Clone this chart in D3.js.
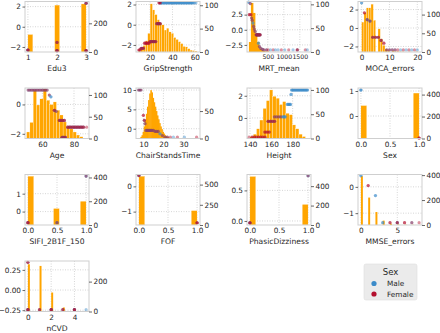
<!DOCTYPE html>
<html>
<head>
<meta charset="utf-8">
<script src="https://cdn.jsdelivr.net/npm/d3@7"></script>
<style>
  body { margin: 0; background: #fff; }
  text { font-family: "DejaVu Sans", sans-serif; fill: #262626; }
</style>
</head>
<body>
<svg id="chart" width="440" height="333"></svg>
<script>
// feature names, one panel each
const features = ["Edu3", "GripStrength", "MRT_mean", "MOCA_errors",
  "Age", "ChairStandsTime", "Height", "Sex",
  "SIFI_2B1F_150", "FOF", "PhasicDizziness", "MMSE_errors", "nCVD"];

const xDomains = [[0.9, 3.1], [7.4, 64.6], [-150, 1850], [-1.3, 21.7],
  [49, 89.5], [6.3, 38.3], [137.2, 197.2], [-0.05, 1.05],
  [-0.05, 1.05], [-0.05, 1.05], [-0.05, 1.05], [-0.4, 8.4], [-0.25, 5.25]];
const valueDomains = [[-2.5, 2.5], [-2.7, 2.3], [-3.67, 4.67], [-2.6, 2.87],
  [-2.32, 1.12], [-2.53, 10.52], [-1.85, 2.7], [-0.9, 1.12],
  [-0.75, 2.07], [-1.53, 0.47], [-0.066, 0.76], [-1.45, 0.47], [-0.266, 0.36]];
const countDomains = [[0, 352], [0, 108], [0, 106], [0, 135],
  [0, 116], [0, 92], [0, 104], [0, 460],
  [0, 425], [0, 625], [0, 520], [0, 405], [0, 338]];

// tick labels
const xTicks = [[1, 2, 3], [20, 40, 60], [500, 1000, 1500], [0, 10, 20],
  [60, 80], [10, 20, 30], [140, 160, 180], [0, 0.5, 1],
  [0, 0.5, 1], [0, 0.5, 1], [0, 0.5, 1], [0, 5], [0, 2, 4]];
const valueTicks = [[-2, 0, 2], [-2, 0, 2], [-2.5, 0, 2.5], [-2, 0, 2],
  [-2, 0], [0, 5, 10], [0, 2], [0, 1],
  [0, 1], [-1, 0], [0, 0.5], [-1, 0], [-0.25, 0, 0.25]];
const countTicks = [[0, 200], [0, 50, 100], [0, 50, 100], [0, 50, 100],
  [0, 50, 100], [0, 50], [0, 50, 100], [0, 200, 400],
  [0, 200, 400], [0, 250, 500], [0, 200, 400], [0, 200, 400], [0, 200]];
const xFormats = ["d", "d", "d", "d", "d", "d", "d", ".1f", ".1f", ".1f", ".1f", "d", "d"];
const valueFormats = ["d", "d", ".1f", "d", "d", "d", "d", "d", "d", "d", ".1f", "d", ".2f"];

// histograms: regular bins {start, step, counts} or explicit bars [x0, x1, count]
const edu3Hist = {bars: [[1.0, 1.17, 122], [1.92, 2.09, 327], [2.83, 3.0, 335]]};
const gripHist = {start: 9.5, step: 2.1, counts: [3, 7, 14, 24, 40, 103, 90, 80, 69, 62, 58, 47, 51, 43, 40, 31, 27, 22, 18, 12, 11, 7, 4, 3, 2]};
const mrtHist = {start: -90, step: 62, counts: [21, 103, 82, 39, 21, 7, 4, 2, 1, 1]};
const mocaHist = {start: 0, step: 0.84, counts: [80, 105, 118, 118, 128, 85, 0, 62, 35, 18, 8, 5, 0, 4, 2, 2, 1, 1, 0, 0, 1, 0, 0, 1, 0]};
const ageHist = {start: 50, step: 2.1, counts: [15, 37, 111, 77, 91, 114, 88, 78, 84, 65, 54, 38, 27, 22, 15, 8, 4]};
const chairHist = {start: 8.5, step: 0.55, counts: [3, 6, 12, 22, 33, 45, 58, 70, 82, 88, 84, 74, 66, 58, 50, 42, 35, 28, 22, 17, 12, 9, 6, 4, 3, 2]};
const heightHist = {start: 140, step: 3.06, counts: [4, 9, 20, 38, 62, 78, 100, 87, 83, 70, 76, 52, 49, 28, 20, 9, 4]};
const sexHist = {bars: [[0, 0.1, 300], [0.9, 1.0, 414]]};
const sifiHist = {bars: [[0, 0.1, 411], [0.44, 0.54, 139], [0.9, 1.0, 200]]};
const fofHist = {bars: [[0, 0.1, 604], [0.9, 1.0, 178]]};
const phasicHist = {bars: [[0, 0.1, 500], [0.9, 1.0, 212]]};
const mmseHist = {bars: [[0, 0.27, 392], [1, 1.27, 220], [2, 2.27, 104], [3, 3.27, 35], [4, 4.27, 10], [5, 5.27, 5], [6, 6.27, 3], [7, 7.27, 2], [8, 8.27, 1]]};
const ncvdHist = {bars: [[0, 0.17, 316], [1, 1.17, 305], [2, 2.17, 127], [3, 3.17, 27], [4, 4.17, 4], [5, 5.17, 1]]};

// scatter groups: [value, n male, n female, x values]
const edu3Pts = [[-2.3, 3, 3, [1]], [-1.55, 1, 2, [2]], [-2.37, 3, 3, [2, 3]], [2.33, 2, 2, [3]]];
const gripPts = [
  [2.17, 2, 0, [29, 30, 31, 32, 33, 34, 35, 36, 37, 38, 39, 40, 41, 42, 43, 44, 45, 46, 47, 48, 49, 50, 51, 52, 53, 54, 55, 56, 57, 58]],
  [2.17, 1, 0, [59, 60, 61]], [2.17, 0, 2, [28, 29]],
  [0.1, 1, 2, [26, 27, 28, 29]], [-1.67, 1, 2, [20, 21, 22, 23, 24, 25]],
  [-1.83, 0, 2, [15, 16, 17, 18, 19]], [-2.33, 1, 2, [12, 13, 14]], [-2.5, 0, 2, [10, 11]]];
const mrtPts = [
  [4.56, 2, 0, [-100]], [4.33, 1, 1, [-48]], [2.5, 0, 2, [-80, -28]], [1.94, 1, 1, [-7]],
  [1.56, 1, 1, [14]], [1.11, 2, 0, [35]], [0.56, 1, 1, [55]], [0.11, 1, 1, [76]],
  [-0.28, 1, 1, [107]], [-0.83, 1, 2, [138, 158, 179, 199, 220, 240, 261]],
  [-2.22, 2, 0, [210]], [-2.78, 1, 1, [240]], [-3.06, 1, 1, [282]], [-3.22, 1, 1, [334]],
  [-3.33, 1, 1, [375, 458]], [-3.33, 0, 1, [510, 666, 924, 1154, 1672]],
  [-3.33, 1, 0, [582, 738, 821, 1030, 1288, 1734]], [-3.33, 1, 2, [1422]]];
const mocaPts = [
  [2.73, 2, 0, [0]], [1.64, 0, 2, [1]], [0.9, 2, 1, [2]], [0.75, 2, 1, [3]],
  [-1.0, 1, 2, [4, 5, 6]], [-1.35, 1, 2, [7]], [-1.64, 0, 2, [8]],
  [-2.37, 1, 1, [9, 10, 11, 12]], [-2.37, 0, 1, [13, 15, 17, 19]], [-2.37, 1, 0, [14, 16, 18, 20]]];
const agePts = [
  [0.98, 1, 1, [51, 52, 53, 54, 55, 56, 57, 58, 59, 60, 61, 62, 63]],
  [0.64, 1, 1, [64.4]], [0.52, 2, 0, [65.4]], [-0.4, 1, 2, [67.6]], [-0.47, 1, 1, [68.7]],
  [-1.09, 1, 2, [70.8, 71.8, 72.8, 73.9]], [-2.24, 2, 2, [72.5, 73.5, 74.5]],
  [-1.55, 1, 2, [76, 77, 78, 79, 80, 81, 82, 83, 84, 85, 86]], [-1.55, 0, 1, [88]]];
const chairPts = [
  [10.0, 1, 1, [7.6, 8.2, 8.8]], [3.47, 0, 2, [10]], [2.17, 1, 2, [10.5]], [1.3, 1, 1, [10.8]],
  [-0.44, 1, 1, [11.3, 11.8, 12.3, 12.8, 13.3, 13.8, 14.3, 15]], [-0.7, 1, 1, [15.8, 16.6, 17.4]],
  [-1.3, 2, 0, [18.3]], [-1.75, 1, 1, [19.5]], [-2.2, 1, 1, [20.8, 22]],
  [-2.2, 0, 1, [23.5, 27, 36.6]], [-2.2, 1, 0, [25, 30.5]]];
const heightPts = [
  [2.52, 2, 0, [179, 180, 181, 182, 183, 184, 185, 186, 187, 188, 189, 190, 191, 192, 193, 194]],
  [2.12, 2, 0, [178.5]], [1.22, 2, 0, [175, 176, 177, 178]],
  [0.1, 1, 1, [163, 165, 167, 169]], [0.1, 2, 0, [171, 172, 173]],
  [-0.3, 1, 2, [157, 159, 161, 163]], [-1.27, 0, 2, [154, 156, 158]],
  [-1.73, 0, 2, [142, 144, 146, 148, 150, 152, 154]], [-1.73, 0, 1, [139]]];
const sexPts = [[1.04, 3, 0, [0]], [-0.88, 0, 3, [1]]];
const sifiPts = [[-0.62, 2, 3, [0]], [-0.62, 2, 1, [0.5]], [1.98, 2, 1, [1]]];
const fofPts = [[0.43, 2, 2, [0]], [-1.44, 1, 3, [1]]];
const phasicPts = [[-0.03, 3, 3, [0]], [0.74, 2, 1, [1]]];
const mmsePts = [
  [0.43, 2, 0, [0]], [0.05, 0, 2, [1]], [-0.33, 2, 0, [2]], [-1.36, 2, 0, [3]],
  [-1.36, 0, 2, [4, 6]], [-1.36, 2, 2, [5]], [-1.36, 1, 1, [7]], [-1.36, 0, 1, [8]]];
const ncvdPts = [
  [0.344, 1, 2, [0]], [-0.243, 3, 3, [0, 2, 4]], [-0.243, 1, 2, [1, 3]], [-0.243, 1, 0, [5]]];

const histograms = [edu3Hist, gripHist, mrtHist, mocaHist, ageHist, chairHist, heightHist,
  sexHist, sifiHist, fofHist, phasicHist, mmseHist, ncvdHist];
const scatters = [edu3Pts, gripPts, mrtPts, mocaPts, agePts, chairPts, heightPts,
  sexPts, sifiPts, fofPts, phasicPts, mmsePts, ncvdPts];

const sexLabels = ["Male", "Female"];
const sexColors = ["#3b8bc9", "#b30f2e"];

// layout
const colX = [25, 136, 247, 358];
const rowY = [1.5, 88, 174.5, 261];
const W = 64, H = 50.5;

const svg = d3.select("#chart");

features.forEach((name, i) => {
  const g = svg.append("g")
    .attr("transform", `translate(${colX[i % 4]},${rowY[Math.floor(i / 4)]})`);

  const x = d3.scaleLinear().domain(xDomains[i]).range([0, W]);
  const yv = d3.scaleLinear().domain(valueDomains[i]).range([H, 0]);
  const yc = d3.scaleLinear().domain(countDomains[i]).range([H, 0]);

  // dotted grid
  g.selectAll(".gx").data(xTicks[i]).join("line")
    .attr("x1", d => x(d)).attr("x2", d => x(d))
    .attr("y1", 0).attr("y2", H)
    .attr("stroke", "#c4c4c4").attr("stroke-width", 0.7).attr("stroke-dasharray", "1,1.5");
  g.selectAll(".gy").data(valueTicks[i]).join("line")
    .attr("x1", 0).attr("x2", W)
    .attr("y1", d => yv(d)).attr("y2", d => yv(d))
    .attr("stroke", "#c4c4c4").attr("stroke-width", 0.7).attr("stroke-dasharray", "1,1.5");

  // histogram on the count axis; narrow contiguous bars overlap a hair so they read solid
  const h = histograms[i];
  const bars = h.bars ? h.bars
    : h.counts.map((c, k) => [h.start + k * h.step, h.start + (k + 1) * h.step, c]);
  const contiguous = !h.bars;
  g.append("g").selectAll("rect").data(bars.filter(b => b[2] > 0)).join("rect")
    .attr("x", d => x(d[0]))
    .attr("width", d => {
      const w = x(d[1]) - x(d[0]);
      return contiguous && w <= 2 ? w + 0.5 : w;
    })
    .attr("y", d => yc(d[2]))
    .attr("height", d => H - yc(d[2]))
    .attr("fill", "#ffa500")
    .attr("stroke", d => x(d[1]) - x(d[0]) > 2 ? "#fff" : "none")
    .attr("stroke-width", 0.25);

  // scatter on the value axis: one circle per observation
  const pts = [];
  scatters[i].forEach(([v, nm, nf, xs]) => {
    xs.forEach(xv => {
      for (let k = 0; k < nm; k++) pts.push([xv, v, 0]);
      for (let k = 0; k < nf; k++) pts.push([xv, v, 1]);
    });
  });
  g.append("g").selectAll("circle").data(pts).join("circle")
    .attr("cx", d => x(d[0]))
    .attr("cy", d => yv(d[1]))
    .attr("r", 1.6)
    .attr("fill", d => sexColors[d[2]])
    .attr("fill-opacity", 0.45);

  // frame
  g.append("rect").attr("width", W).attr("height", H)
    .attr("fill", "none").attr("stroke", "#cfcfcf").attr("stroke-width", 1);

  // axes
  const styleAxis = size => sel => {
    sel.select(".domain").remove();
    sel.selectAll(".tick line").attr("stroke", "#444").attr("stroke-width", 0.8);
    sel.selectAll(".tick text").attr("font-size", size).attr("fill", "#262626");
  };
  g.append("g").attr("transform", `translate(0,${H})`)
    .call(d3.axisBottom(x).tickValues(xTicks[i]).tickFormat(d3.format(xFormats[i])).tickSize(0).tickPadding(3))
    .call(styleAxis(name === "MRT_mean" ? 6.2 : 7.3));
  g.append("g")
    .call(d3.axisLeft(yv).tickValues(valueTicks[i]).tickFormat(d3.format(valueFormats[i])).tickSize(2.5).tickPadding(1.5))
    .call(styleAxis(7.3));
  g.append("g").attr("transform", `translate(${W},0)`)
    .call(d3.axisRight(yc).tickValues(countTicks[i]).tickFormat(d3.format("d")).tickSize(3).tickPadding(1.5))
    .call(styleAxis(7.3));

  g.append("text")
    .attr("x", W / 2).attr("y", H + 19)
    .attr("text-anchor", "middle")
    .attr("font-size", 7.6)
    .text(name);
});

// legend
const lg = svg.append("g").attr("transform", "translate(364,264)");
lg.append("rect").attr("width", 53).attr("height", 36).attr("rx", 2)
  .attr("fill", "#ebebeb").attr("stroke", "#dedede").attr("stroke-width", 0.6);
lg.append("text").attr("x", 26.5).attr("y", 10.5).attr("text-anchor", "middle")
  .attr("font-size", 8.5).text("Sex");
sexLabels.forEach((lab, k) => {
  lg.append("circle").attr("cx", 10).attr("cy", 19.5 + k * 10.5).attr("r", 2.6)
    .attr("fill", sexColors[k]);
  lg.append("text").attr("x", 23).attr("y", 22 + k * 10.5)
    .attr("font-size", 7.3).text(lab);
});
</script>
</body>
</html>
